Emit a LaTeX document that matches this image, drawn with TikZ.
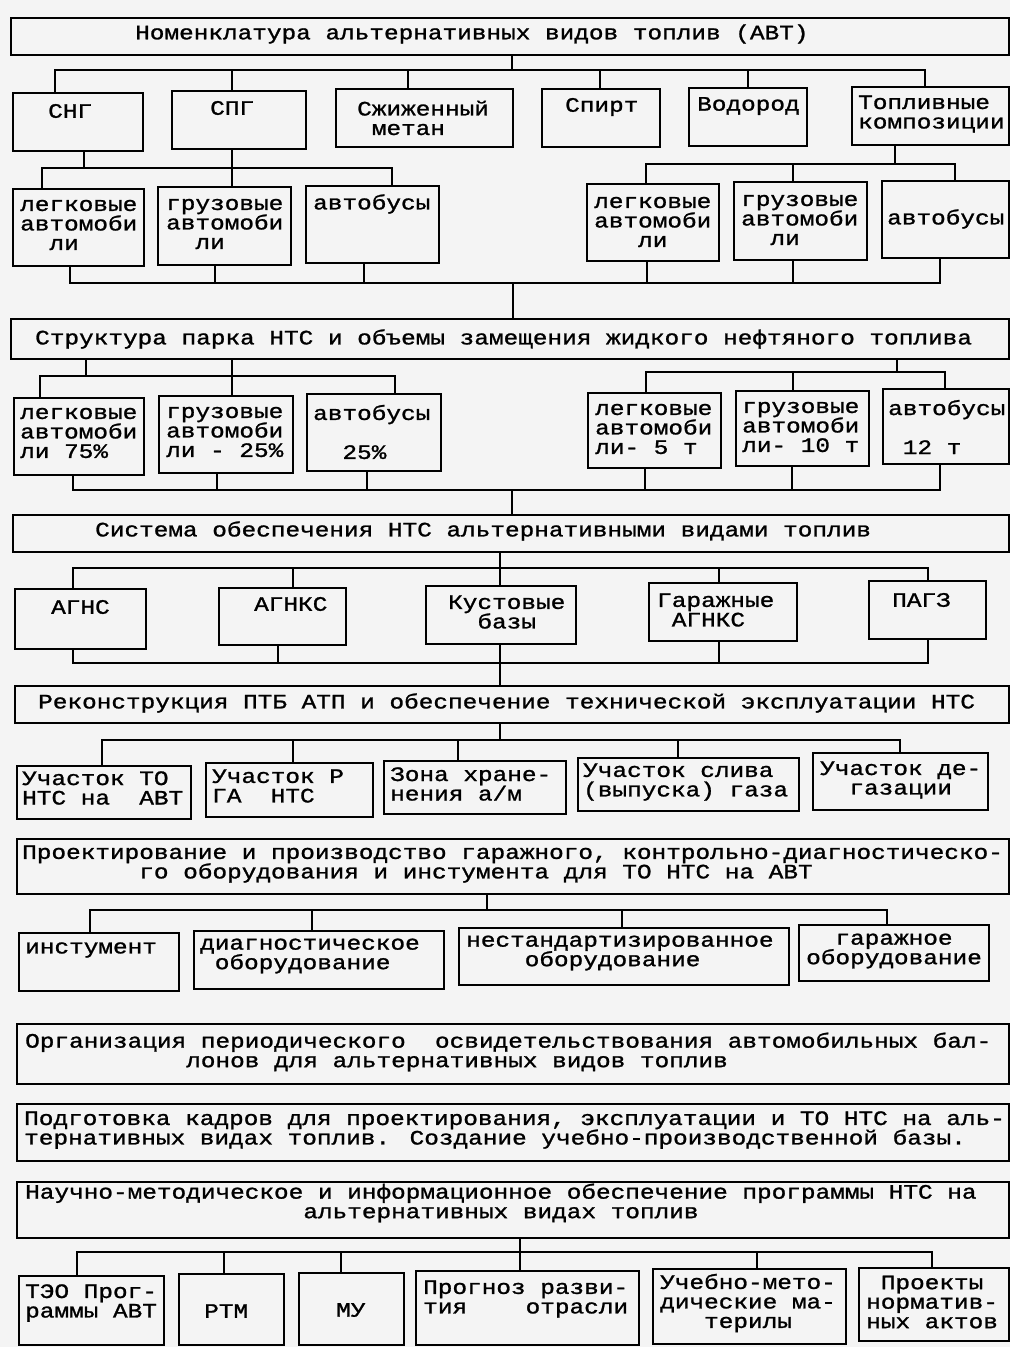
\documentclass[tikz,border=0pt]{standalone}
\usepackage{fontspec}
\newfontfamily\monof[FakeStretch=1.19,FakeBold=1.2]{Liberation Mono}
\definecolor{bgc}{HTML}{F4F4F4}
\newcommand\ind[1]{\hphantom{#1}}
\tikzset{
 bx/.style={draw, line width=1.5pt, inner sep=0pt, anchor=north west},
 tx/.style={anchor=west, align=left, inner sep=0pt, font=\monof\fontsize{20.5}{19.5}\selectfont},
 ln/.style={line width=1.5pt, line cap=rect},
}
\newcommand\bx[5]{\node[bx, minimum width={(#4)-(#2)}, minimum height={(#5)-(#3)}] (#1) at (#2,#3) {};}
\newcommand\tx[4]{\node[tx] (#1) at (#2,#3) {#4};}
\newcommand\kids[2]{\foreach \x/\n in {#2}{\coordinate (k-\n) at (\x,#1); \draw[ln] (k-\n) -- (\n.north -| k-\n);}}
\newcommand\ups[2]{\foreach \x/\n in {#2}{\coordinate (u-\n) at (\x,#1); \draw[ln] (\n.south -| u-\n) -- (u-\n);}}
\begin{document}
\begin{tikzpicture}[x=1pt,y=-1pt]
\fill[bgc] (0,0) rectangle (1010,1347);
\useasboundingbox (0,0) rectangle (1010,1347);

% ---------- Row 1
\bx{title}{10}{17}{1008}{54}
\tx{ttitle}{135}{34}{Номенклатура альтернативных видов топлив (АВТ)}
\bx{sng}{12}{92}{142}{150} \tx{tsng}{48}{111}{СНГ}
\bx{spg}{171}{90}{305}{148} \tx{tspg}{210}{108}{СПГ}
\bx{met}{335}{88}{512}{146} \tx{tmet}{357}{118}{Сжиженный\\\ind{0}метан}
\bx{spi}{541}{88}{659}{146} \tx{tspi}{565}{107}{Спирт}
\bx{vod}{688}{87}{806}{145} \tx{tvod}{697}{106}{Водород}
\bx{tk}{851}{86}{1008}{144} \tx{ttk}{858}{114}{Топливные\\композиции}
\coordinate (c1) at (512,70);
\draw[ln] (title.south -| c1) -- (c1);
\kids{70}{55/sng,232/spg,408/met,600/spi,748/vod,925/tk}
\draw[ln] (k-sng) -- (k-tk);

% ---------- Row 2
\bx{lv1}{12}{188}{143}{265} \tx{tlv1}{20}{225}{легковые\\автомоби\\\ind{00}ли}
\bx{gv1}{157}{186}{290}{264} \tx{tgv1}{166}{224}{грузовые\\автомоби\\\ind{00}ли}
\bx{av1}{305}{185}{438}{262} \tx{tav1}{313}{204}{автобусы}
\bx{lv2}{586}{183}{718}{260} \tx{tlv2}{594}{222}{легковые\\автомоби\\\ind{000}ли}
\bx{gv2}{733}{181}{866}{259} \tx{tgv2}{741}{220}{грузовые\\автомоби\\\ind{00}ли}
\bx{av2}{881}{180}{1008}{257} \tx{tav2}{887}{219}{автобусы}
\kids{168}{42/lv1,232/gv1,392/av1}
\draw[ln] (k-lv1) -- (k-av1);
\coordinate (s1) at (84,168); \draw[ln] (sng.south -| s1) -- (s1);
\draw[ln] (spg.south -| k-gv1) -- (k-gv1);
\kids{164}{646/lv2,793/gv2,955/av2}
\draw[ln] (k-lv2) -- (k-av2);
\coordinate (s2) at (895,164); \draw[ln] (tk.south -| s2) -- (s2);
\ups{283}{70/lv1,215/gv1,364/av1,647/lv2,793/gv2,940/av2}
\draw[ln] (u-lv1) -- (u-av2);
\coordinate (c2) at (513,283);

% ---------- Row 3
\bx{str}{10}{318}{1008}{358}
\tx{tstr}{35}{339}{Структура парка НТС и объемы замещения жидкого нефтяного топлива}
\draw[ln] (c2) -- (str.north -| c2);
\bx{lv3}{13}{397}{143}{474} \tx{tlv3}{20}{433}{легковые\\автомоби\\ли 75\%}
\bx{gv3}{158}{395}{292}{472} \tx{tgv3}{166}{432}{грузовые\\автомоби\\ли - 25\%}
\bx{av3}{306}{393}{440}{470} \tx{tav3}{313}{432}{автобусы\\\mbox{}\\\ind{00}25\%}
\bx{lv4}{587}{392}{720}{467} \tx{tlv4}{595}{429}{легковые\\автомоби\\ли- 5 т}
\bx{gv4}{735}{390}{868}{465} \tx{tgv4}{742}{427}{грузовые\\автомоби\\ли- 10 т}
\bx{av4}{882}{388}{1008}{463} \tx{tav4}{888}{427}{автобусы\\\mbox{}\\\ind{0}12 т}
\kids{376}{40/lv3,232/gv3,395/av3}
\draw[ln] (k-lv3) -- (k-av3);
\coordinate (s3) at (86,376); \draw[ln] (str.south -| s3) -- (s3);
\draw[ln] (str.south -| k-gv3) -- (k-gv3);
\kids{372}{646/lv4,793/gv4,945/av4}
\draw[ln] (k-lv4) -- (k-av4);
\coordinate (s4) at (897,372); \draw[ln] (str.south -| s4) -- (s4);
\ups{490}{73/lv3,217/gv3,367/av3,645/lv4,792/gv4,940/av4}
\draw[ln] (u-lv3) -- (u-av4);
\coordinate (c3) at (512,490);

% ---------- Row 4
\bx{sys}{12}{514}{1008}{551}
\tx{tsys}{95}{531}{Система обеспечения НТС альтернативными видами топлив}
\draw[ln] (c3) -- (sys.north -| c3);
\bx{agns}{14}{588}{145}{648} \tx{tagns}{51}{607}{АГНС}
\bx{agnks}{218}{587}{345}{644} \tx{tagnks}{254}{604}{АГНКС}
\bx{kus}{425}{585}{575}{643} \tx{tkus}{448}{612}{Кустовые\\\ind{00}базы}
\bx{gar}{648}{582}{796}{640} \tx{tgar}{657}{610}{Гаражные\\\ind{0}АГНКС}
\bx{pagz}{868}{580}{985}{638} \tx{tpagz}{892}{600}{ПАГЗ}
\kids{568}{73/agns,293/agnks,500/kus,719/gar,928/pagz}
\draw[ln] (k-agns) -- (k-pagz);
\draw[ln] (sys.south -| k-kus) -- (k-kus);
\ups{663}{73/agns,278/agnks,500/kus,719/gar,928/pagz}
\draw[ln] (u-agns) -- (u-pagz);

% ---------- Row 5
\bx{rec}{14}{685}{1008}{722}
\tx{trec}{38}{703}{Реконструкция ПТБ АТП и обеспечение технической эксплуатации НТС}
\draw[ln] (u-kus) -- (rec.north -| u-kus);
\bx{u1}{16}{765}{190}{818} \tx{tu1}{22}{788}{Участок ТО\\НТС на\ind{0} АВТ}
\bx{u2}{205}{762}{372}{816} \tx{tu2}{212}{786}{Участок Р\\ГА\ind{0} НТС}
\bx{u3}{383}{760}{565}{813} \tx{tu3}{390}{784}{Зона хране-\\нения а/м}
\bx{u4}{577}{757}{798}{810} \tx{tu4}{583}{782}{Участок слива\\(выпуска) газа}
\bx{u5}{812}{752}{987}{809} \tx{tu5}{820}{780}{Участок де-\\\ind{00}газации}
\coordinate (c5) at (500,740);
\draw[ln] (rec.south -| c5) -- (c5);
\kids{740}{102/u1,293/u2,458/u3,678/u4,900/u5}
\draw[ln] (k-u1) -- (k-u5);

% ---------- Row 6
\bx{pro}{16}{838}{1008}{893}
\tx{tpro}{22}{864}{Проектирование и производство гаражного, контрольно-диагностическо-\\\ind{00000000}го оборудования и инстумента для ТО НТС на АВТ}
\bx{i1}{18}{932}{178}{990} \tx{ti1}{25}{950}{инстумент}
\bx{i2}{193}{930}{443}{988} \tx{ti2}{200}{956}{диагностическое\\\ind{0}оборудование}
\bx{i3}{458}{927}{788}{984} \tx{ti3}{466}{953}{нестандартизированное\\\ind{0000}оборудование}
\bx{i4}{798}{924}{988}{980} \tx{ti4}{806}{951}{\ind{00}гаражное\\оборудование}
\coordinate (c6) at (487,910);
\draw[ln] (pro.south -| c6) -- (c6);
\kids{910}{90/i1,312/i2,622/i3,887/i4}
\draw[ln] (k-i1) -- (k-i4);

% ---------- Row 7, 8
\bx{org}{16}{1023}{1008}{1083}
\tx{torg}{25}{1052}{Организация периодического\ind{0} освидетельствования автомобильных бал-\\\ind{00000000000}лонов для альтернативных видов топлив}
\bx{pod}{16}{1103}{1008}{1160}
\tx{tpod}{24}{1130}{Подготовка кадров для проектирования, эксплуатации и ТО НТС на аль-\\тернативных видах топлив. Создание учебно-производственной базы.}

% ---------- Row 9
\bx{nau}{16}{1181}{1008}{1237}
\tx{tnau}{25}{1203}{Научно-методическое и информационное обеспечение программы НТС на\\\ind{0000000000000000000}альтернативных видах топлив}
\bx{n1}{18}{1275}{163}{1344} \tx{tn1}{25}{1303}{ТЭО Прог-\\раммы АВТ}
\bx{n2}{178}{1273}{283}{1344} \tx{tn2}{204}{1311}{РТМ}
\bx{n3}{298}{1272}{403}{1344} \tx{tn3}{336}{1310}{МУ}
\bx{n4}{415}{1270}{638}{1344} \tx{tn4}{423}{1299}{Прогноз разви-\\тия\ind{000} отрасли}
\bx{n5}{652}{1268}{845}{1343} \tx{tn5}{660}{1303}{Учебно-мето-\\дические ма-\\\ind{000}терилы}
\bx{n6}{858}{1267}{1008}{1340} \tx{tn6}{866}{1302}{\ind{0}Проекты\\норматив-\\ных актов}
\kids{1252}{77/n1,224/n2,341/n3,520/n4,757/n5,932/n6}
\draw[ln] (k-n1) -- (k-n6);
\draw[ln] (nau.south -| k-n4) -- (k-n4);
\end{tikzpicture}
\end{document}
